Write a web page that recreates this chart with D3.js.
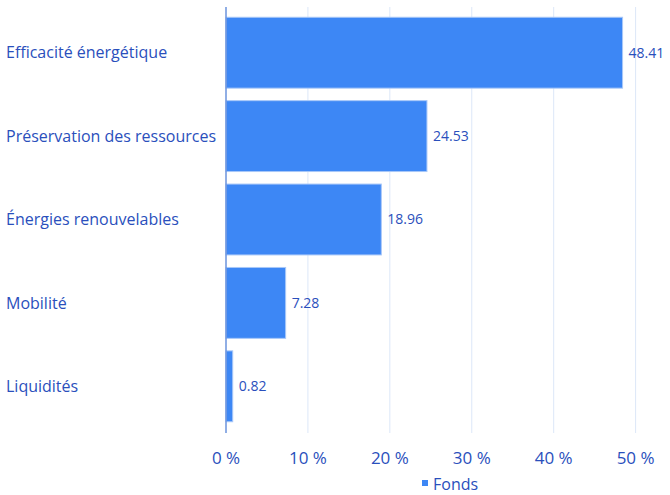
<!DOCTYPE html>
<html>
<head>
<meta charset="utf-8">
<script src="https://cdn.jsdelivr.net/npm/d3@7"></script>
<style>
  body { margin: 0; background: #fff; }
  text { font-family: "Open Sans", "Noto Sans", sans-serif; fill: #2a4fbc; }
</style>
</head>
<body>
<svg id="chart" width="670" height="495"></svg>
<script>
// chart data
var categories = ["Efficacité énergétique", "Préservation des ressources", "Énergies renouvelables", "Mobilité", "Liquidités"];
var values = [48.41, 24.53, 18.96, 7.28, 0.82];
var xTicks = [0, 10, 20, 30, 40, 50];
var seriesName = "Fonds";

var margin = { top: 11, right: 35, bottom: 67, left: 226 },
    width = 670 - margin.left - margin.right,
    height = 495 - margin.top - margin.bottom;

var svg = d3.select("#chart");
var g = svg.append("g").attr("transform", "translate(" + margin.left + "," + margin.top + ")");

var x = d3.scaleLinear().domain([0, 50]).range([0, 409.6]);
var y = d3.scaleBand().domain(categories).range([0, height]).paddingInner(0.15).paddingOuter(0.075);

// grid lines
g.selectAll("line.grid").data(xTicks.slice(1)).enter().append("line")
  .attr("class", "grid")
  .attr("x1", function (d) { return x(d); })
  .attr("x2", function (d) { return x(d); })
  .attr("y1", -4).attr("y2", height + 5)
  .attr("stroke", "#dce7f8").attr("stroke-width", 1);

// bars
g.selectAll("rect.bar").data(values).enter().append("rect")
  .attr("class", "bar")
  .attr("x", x(0))
  .attr("y", function (d, i) { return y(categories[i]); })
  .attr("width", function (d) { return x(d) - x(0); })
  .attr("height", y.bandwidth())
  .attr("fill", "#3d87f5")
  .attr("stroke", "#a9c8f8").attr("stroke-width", 1);

// value labels
g.selectAll("text.val").data(values).enter().append("text")
  .attr("class", "val")
  .attr("x", function (d) { return x(d) + 6; })
  .attr("y", function (d, i) { return y(categories[i]) + y.bandwidth() / 2; })
  .attr("dy", "0.35em")
  .style("font-size", "14px")
  .text(function (d) { return d.toFixed(2); });

// y axis line
g.append("line")
  .attr("x1", 0).attr("x2", 0)
  .attr("y1", -4).attr("y2", height + 5)
  .attr("stroke", "#6b93dc").attr("stroke-width", 1.5);

// category labels
g.selectAll("text.cat").data(categories).enter().append("text")
  .attr("class", "cat")
  .attr("x", -220)
  .attr("y", function (d) { return y(d) + y.bandwidth() / 2; })
  .attr("dy", "0.35em")
  .style("font-size", "16px")
  .text(function (d) { return d; });

// x tick labels
g.selectAll("text.tick").data(xTicks).enter().append("text")
  .attr("class", "tick")
  .attr("x", function (d) { return x(d); })
  .attr("y", height + 36)
  .attr("text-anchor", "middle")
  .style("font-size", "17px")
  .text(function (d) { return d + " %"; });

// legend
var leg = svg.append("g").attr("transform", "translate(445,484)");
leg.append("rect").attr("x", -23).attr("y", -4).attr("width", 6).attr("height", 6).attr("fill", "#3d87f5");
leg.append("text").attr("x", -12).attr("dy", "0.35em").style("font-size", "16px").text(seriesName);
</script>
</body>
</html>
